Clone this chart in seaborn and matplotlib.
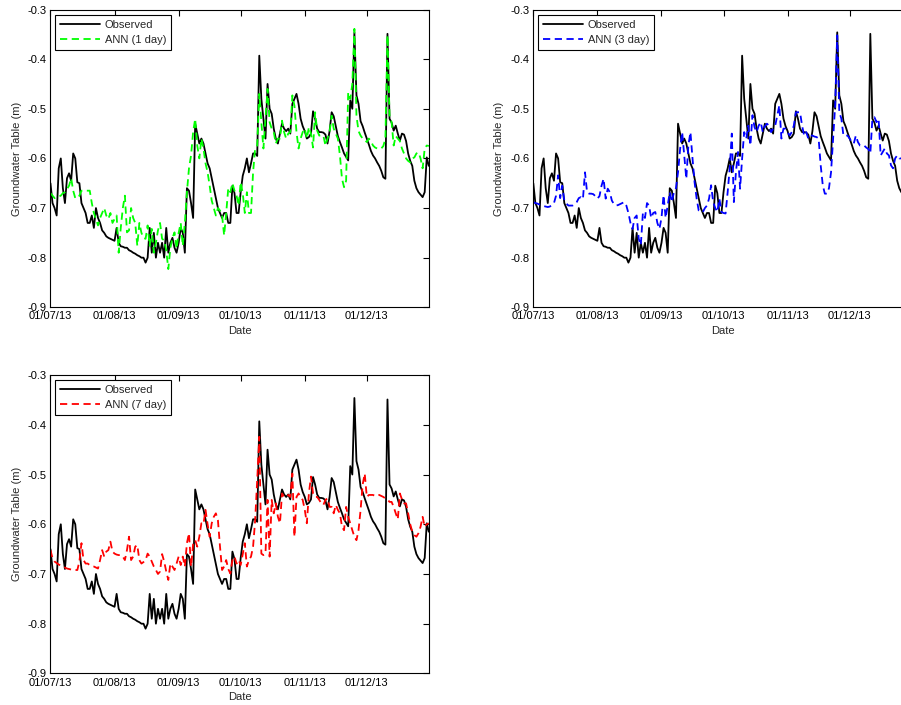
### Groundwater table: observed vs ANN forecasts (1, 3, 7 day)

import matplotlib
matplotlib.use("Agg")
import matplotlib.pyplot as plt
import matplotlib.dates as mdates
import numpy as np
import pandas as pd
import seaborn as sns

## daily values, 01/07/13 .. 31/12/13
start_date = "2013-07-01"
n_days = 184

observed = [
    0.65, 0.69, 0.70, 0.715, 0.62, 0.60, 0.66, 0.69, 0.64, 0.63,
    0.645, 0.59, 0.60, 0.648, 0.65, 0.69, 0.70, 0.71, 0.73, 0.73,
    0.715, 0.74, 0.70, 0.72, 0.73, 0.745, 0.75, 0.757, 0.76, 0.762,
    0.764, 0.766, 0.74, 0.77, 0.777, 0.778, 0.78, 0.78, 0.785, 0.787,
    0.79, 0.792, 0.795, 0.797, 0.80, 0.80, 0.81, 0.80, 0.74, 0.79,
    0.75, 0.80, 0.77, 0.79, 0.77, 0.80, 0.74, 0.79, 0.77, 0.76,
    0.78, 0.79, 0.77, 0.74, 0.75, 0.79, 0.66, 0.665, 0.69, 0.72,
    0.53, 0.55, 0.57, 0.56, 0.57, 0.59, 0.61, 0.62, 0.64, 0.66,
    0.68, 0.70, 0.71, 0.72, 0.71, 0.71, 0.73, 0.73, 0.655, 0.67,
    0.71, 0.71, 0.668, 0.635, 0.62, 0.60, 0.628, 0.61, 0.59, 0.59,
    0.595, 0.393, 0.48, 0.52, 0.56, 0.45, 0.50, 0.51, 0.54, 0.56,
    0.57, 0.55, 0.53, 0.54, 0.545, 0.54, 0.55, 0.49, 0.48, 0.47,
    0.49, 0.52, 0.535, 0.545, 0.56, 0.557, 0.55, 0.505, 0.52, 0.54,
    0.547, 0.547, 0.548, 0.552, 0.57, 0.545, 0.507, 0.515, 0.535, 0.555,
    0.567, 0.578, 0.59, 0.597, 0.604, 0.483, 0.50, 0.346, 0.473, 0.49,
    0.525, 0.535, 0.548, 0.56, 0.572, 0.585, 0.594, 0.60, 0.608, 0.615,
    0.625, 0.638, 0.641, 0.349, 0.52, 0.528, 0.544, 0.534, 0.55, 0.564,
    0.55, 0.552, 0.565, 0.59, 0.605, 0.615, 0.645, 0.66, 0.668, 0.673,
    0.678, 0.668, 0.598, 0.615,
]

ann_1day = [
    0.67, 0.675, 0.68, 0.678, 0.677, 0.675, 0.67, 0.668, 0.662, 0.655,
    0.64, 0.665, 0.68, 0.68, 0.675, 0.665, 0.665, 0.665, 0.665, 0.665,
    0.69, 0.71, 0.722, 0.735, 0.72, 0.71, 0.70, 0.715, 0.722, 0.71,
    0.73, 0.722, 0.715, 0.79, 0.74, 0.70, 0.675, 0.749, 0.745, 0.70,
    0.72, 0.73, 0.776, 0.73, 0.75, 0.76, 0.762, 0.735, 0.776, 0.742,
    0.79, 0.77, 0.745, 0.73, 0.762, 0.765, 0.785, 0.823, 0.78, 0.76,
    0.749, 0.782, 0.75, 0.73, 0.776, 0.73, 0.668, 0.62, 0.594, 0.547,
    0.52, 0.574, 0.60, 0.56, 0.58, 0.61, 0.628, 0.655, 0.685, 0.70,
    0.715, 0.70, 0.705, 0.715, 0.755, 0.71, 0.66, 0.668, 0.65, 0.665,
    0.675, 0.695, 0.648, 0.67, 0.71, 0.668, 0.71, 0.71, 0.628, 0.58,
    0.574, 0.47, 0.527, 0.58, 0.52, 0.46, 0.527, 0.54, 0.547, 0.57,
    0.56, 0.56, 0.524, 0.547, 0.56, 0.55, 0.547, 0.473, 0.494, 0.547,
    0.58, 0.56, 0.547, 0.54, 0.56, 0.537, 0.55, 0.578, 0.507, 0.544,
    0.554, 0.554, 0.554, 0.574, 0.56, 0.547, 0.514, 0.54, 0.55, 0.56,
    0.594, 0.641, 0.658, 0.645, 0.467, 0.48, 0.45, 0.339, 0.514, 0.545,
    0.554, 0.56, 0.563, 0.567, 0.56, 0.565, 0.574, 0.578, 0.58, 0.58,
    0.58, 0.575, 0.56, 0.352, 0.514, 0.527, 0.574, 0.555, 0.56, 0.565,
    0.58, 0.59, 0.60, 0.605, 0.608, 0.60, 0.598, 0.59, 0.588, 0.60,
    0.62, 0.58, 0.574, 0.575,
]

ann_3day = [
    0.688, 0.69, 0.691, 0.693, 0.695, 0.696, 0.697, 0.698, 0.697, 0.694,
    0.69, 0.675, 0.634, 0.68, 0.655, 0.685, 0.691, 0.695, 0.695, 0.695,
    0.692, 0.688, 0.68, 0.678, 0.682, 0.628, 0.668, 0.671, 0.671, 0.672,
    0.676, 0.681, 0.676, 0.655, 0.641, 0.681, 0.661, 0.668, 0.685, 0.692,
    0.695, 0.694, 0.692, 0.69, 0.688, 0.695, 0.71, 0.73, 0.742, 0.72,
    0.715, 0.762, 0.775, 0.71, 0.72, 0.69, 0.695, 0.72, 0.71, 0.708,
    0.73, 0.742, 0.72, 0.674, 0.72, 0.695, 0.668, 0.688, 0.668, 0.66,
    0.628, 0.581, 0.547, 0.594, 0.641, 0.574, 0.547, 0.60, 0.648, 0.681,
    0.705, 0.708, 0.708, 0.70, 0.695, 0.681, 0.654, 0.688, 0.70, 0.708,
    0.681, 0.708, 0.71, 0.711, 0.668, 0.62, 0.55, 0.688, 0.628, 0.587,
    0.661, 0.60, 0.547, 0.56, 0.534, 0.574, 0.513, 0.537, 0.547, 0.534,
    0.527, 0.547, 0.535, 0.53, 0.534, 0.547, 0.54, 0.534, 0.513, 0.493,
    0.56, 0.54, 0.54, 0.547, 0.554, 0.547, 0.534, 0.507, 0.507, 0.507,
    0.534, 0.554, 0.547, 0.56, 0.554, 0.554, 0.556, 0.557, 0.56, 0.614,
    0.654, 0.671, 0.671, 0.66, 0.628, 0.56, 0.493, 0.352, 0.507, 0.52,
    0.554, 0.554, 0.554, 0.56, 0.567, 0.57, 0.554, 0.567, 0.574, 0.574,
    0.574, 0.578, 0.581, 0.59, 0.52, 0.517, 0.527, 0.52, 0.594, 0.587,
    0.58, 0.59, 0.594, 0.614, 0.62, 0.60, 0.594, 0.60, 0.60, 0.595,
    0.59, 0.59, 0.60, 0.60,
]

ann_7day = [
    0.652, 0.668, 0.675, 0.678, 0.681, 0.683, 0.685, 0.687, 0.689, 0.69,
    0.691, 0.692, 0.692, 0.692, 0.675, 0.638, 0.672, 0.679, 0.679, 0.682,
    0.684, 0.685, 0.687, 0.689, 0.672, 0.652, 0.665, 0.655, 0.652, 0.635,
    0.655, 0.659, 0.661, 0.662, 0.662, 0.665, 0.672, 0.652, 0.625, 0.672,
    0.665, 0.645, 0.642, 0.672, 0.679, 0.676, 0.672, 0.659, 0.665, 0.675,
    0.685, 0.692, 0.70, 0.695, 0.66, 0.675, 0.695, 0.712, 0.679, 0.685,
    0.692, 0.679, 0.665, 0.682, 0.665, 0.685, 0.638, 0.618, 0.685, 0.64,
    0.632, 0.645, 0.625, 0.598, 0.60, 0.571, 0.60, 0.625, 0.598, 0.585,
    0.578, 0.592, 0.645, 0.692, 0.685, 0.672, 0.69, 0.699, 0.672, 0.665,
    0.679, 0.672, 0.682, 0.66, 0.638, 0.685, 0.672, 0.665, 0.645, 0.592,
    0.511, 0.424, 0.659, 0.662, 0.659, 0.551, 0.665, 0.551, 0.578, 0.558,
    0.585, 0.598, 0.538, 0.545, 0.545, 0.541, 0.545, 0.498, 0.625, 0.545,
    0.538, 0.545, 0.551, 0.571, 0.598, 0.538, 0.504, 0.538, 0.545, 0.545,
    0.551, 0.558, 0.561, 0.551, 0.548, 0.565, 0.565, 0.578, 0.561, 0.571,
    0.578, 0.605, 0.612, 0.565, 0.585, 0.598, 0.612, 0.625, 0.632, 0.612,
    0.571, 0.52, 0.498, 0.545, 0.541, 0.541, 0.541, 0.543, 0.541, 0.541,
    0.543, 0.545, 0.548, 0.55, 0.555, 0.555, 0.565, 0.578, 0.59, 0.538,
    0.55, 0.558, 0.558, 0.578, 0.60, 0.615, 0.622, 0.625, 0.618, 0.605,
    0.585, 0.605, 0.60, 0.598,
]

panel_labels = ["ANN (1 day)", "ANN (3 day)", "ANN (7 day)"]
panel_colors = ["#00ff00", "#0000ff", "#ff0000"]
y_ticks = [-0.9, -0.8, -0.7, -0.6, -0.5, -0.4, -0.3]

sns.set_style("white")
plt.rcParams["font.family"] = ["Liberation Sans", "DejaVu Sans"]
plt.rcParams["axes.unicode_minus"] = False

dates = pd.date_range(start_date, periods=n_days, freq="D")
df = pd.DataFrame({
    "date": dates,
    "Observed": -np.array(observed),
    "ANN (1 day)": -np.array(ann_1day),
    "ANN (3 day)": -np.array(ann_3day),
    "ANN (7 day)": -np.array(ann_7day),
})

fig = plt.figure(figsize=(9.01, 7.05), dpi=100)
# axes boxes placed like the original (right panel runs off the page)
positions = [
    [0.0560, 0.5641, 0.4204, 0.4224],
    [0.5919, 0.5641, 0.4204, 0.4224],
    [0.0560, 0.0448, 0.4204, 0.4231],
]

x_end = pd.Timestamp(start_date) + pd.Timedelta(days=183.2)

for pos, lab, col in zip(positions, panel_labels, panel_colors):
    ax = fig.add_axes(pos)
    sns.lineplot(data=df, x="date", y="Observed", ax=ax, color="black",
                 lw=1.3, label="Observed")
    sns.lineplot(data=df, x="date", y=lab, ax=ax, color=col, lw=1.3,
                 linestyle=(0, (4, 2.5)), label=lab)
    ax.set_xlim(pd.Timestamp(start_date), x_end)
    ax.set_ylim(-0.9, -0.3)
    ax.set_yticks(y_ticks)
    ax.set_yticklabels([f"{v:.1f}" for v in y_ticks])
    ax.xaxis.set_major_locator(mdates.MonthLocator())
    ax.xaxis.set_major_formatter(mdates.DateFormatter("%d/%m/%y"))
    ax.tick_params(direction="in", top=True, right=True, length=4,
                   width=0.8, labelsize=8, pad=3, colors="black")
    for s in ax.spines.values():
        s.set_color("black")
        s.set_linewidth(0.8)
    ax.set_xlabel("Date", fontsize=8, labelpad=3)
    ax.set_ylabel("Groundwater Table (m)", fontsize=8, labelpad=4)
    leg = ax.legend(loc="upper left", fontsize=8, fancybox=False,
                    edgecolor="black", framealpha=1, handlelength=3.6,
                    handletextpad=0.4, borderaxespad=0.45,
                    labelspacing=0.45, borderpad=0.45)
    leg.get_frame().set_linewidth(0.8)

plt.savefig("out.png", dpi=100)
plt.close()
